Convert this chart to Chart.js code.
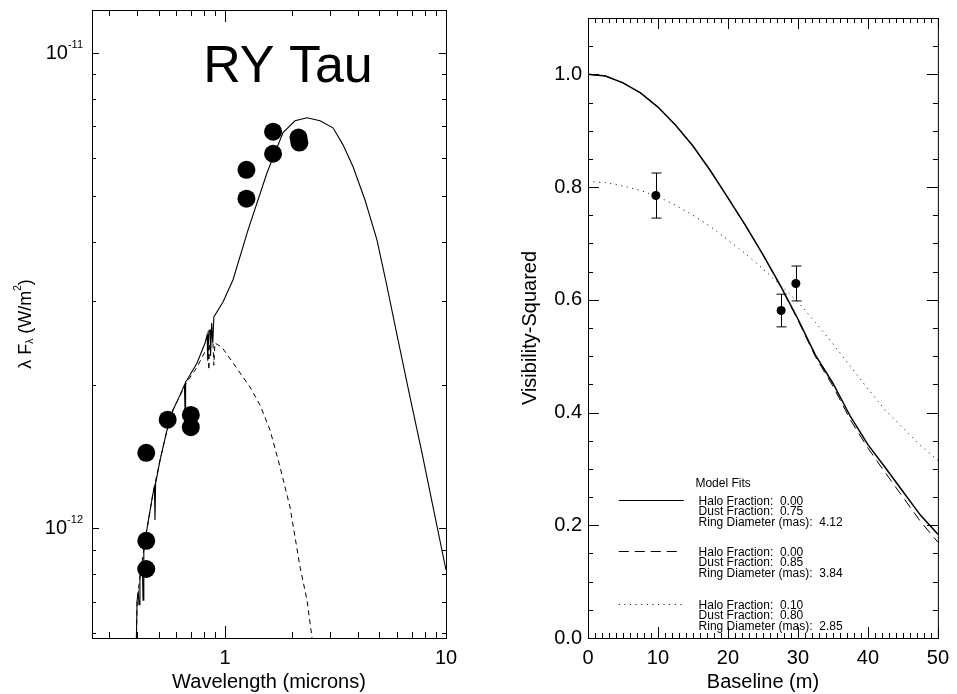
<!DOCTYPE html>
<html lang="en">
<head>
    <meta charset="UTF-8">
    <title>RY Tau: SED and Visibilities</title>
    <script src="https://cdn.jsdelivr.net/npm/chart.js"></script>
    <style>
        body { margin: 0; background: #fff; }
        #sed-wrap { position: absolute; left: 0; top: 0; }
        #vis-wrap { position: absolute; left: 478px; top: 0; }
    </style>
</head>
<body>
    <div id="sed-wrap"><canvas id="sedChart" width="478" height="694"></canvas></div>
    <div id="vis-wrap"><canvas id="visChart" width="479" height="694"></canvas></div>

    <script>
        const FONT = '"Liberation Sans", Arial, Helvetica, sans-serif';

        // ---- left panel: spectral energy distribution ----
        // photometry (microns, W/m^2)
        const photLambda = [0.44, 0.44, 0.44, 0.55, 0.70, 0.70, 1.25, 1.25, 1.65, 1.65, 2.15, 2.17];
        const photFlux = [1.44e-12, 9.4e-13, 8.2e-13, 1.69e-12, 1.73e-12, 1.63e-12,
                          5.67e-12, 4.93e-12, 6.82e-12, 6.13e-12, 6.63e-12, 6.47e-12];

        // total model (star + disk), solid
        const modelLambda = [0.396, 0.400, 0.405, 0.408, 0.412, 0.422, 0.4256, 0.429, 0.4346, 0.455,
                             0.4723, 0.479, 0.482, 0.485, 0.508, 0.5466, 0.5816, 0.626, 0.655, 0.659,
                             0.663, 0.673, 0.7468, 0.812, 0.83, 0.835, 0.845, 0.855, 0.86, 0.87,
                             0.88, 0.89, 0.979, 1.087, 1.271, 1.549, 1.83, 2.073, 2.35, 2.69,
                             3.08, 3.42, 3.80, 4.30, 4.87, 5.41, 6.00, 6.87, 7.79, 8.83, 10.0];
        const modelFlux = [5.5e-13, 7.05e-13, 7.3e-13, 6.9e-13, 7.88e-13, 8.5e-13, 7.05e-13, 8.9e-13, 9.43e-13, 1.07e-12,
                           1.185e-12, 1.22e-12, 1.04e-12, 1.24e-12, 1.39e-12, 1.608e-12, 1.772e-12, 1.906e-12, 2.0e-12, 1.77e-12,
                           2.03e-12, 2.049e-12, 2.225e-12, 2.45e-12, 2.55e-12, 2.25e-12, 2.6e-12, 2.61e-12, 2.3e-12, 2.7e-12,
                           2.45e-12, 2.78e-12, 2.99e-12, 3.33e-12, 4.24e-12, 5.59e-12, 6.79e-12, 7.19e-12, 7.30e-12, 7.19e-12,
                           6.95e-12, 6.40e-12, 5.75e-12, 4.90e-12, 4.04e-12, 3.22e-12, 2.55e-12, 1.887e-12, 1.438e-12, 1.081e-12, 8.16e-13];

        // stellar photosphere, dashed
        const starLambda = [0.396, 0.400, 0.412, 0.4346, 0.4723, 0.508, 0.5466, 0.5816, 0.626, 0.673,
                            0.7468, 0.812, 0.84, 0.845, 0.85, 0.882, 0.89, 0.90, 0.969, 1.087,
                            1.297, 1.44, 1.598, 1.774, 1.968, 2.185, 2.35, 2.476, 2.55];
        const starFlux = [5.5e-13, 7.05e-13, 7.88e-13, 9.43e-13, 1.185e-12, 1.39e-12, 1.608e-12, 1.772e-12, 1.90e-12, 2.03e-12,
                          2.18e-12, 2.35e-12, 2.40e-12, 2.15e-12, 2.42e-12, 2.45e-12, 2.2e-12, 2.45e-12, 2.40e-12, 2.225e-12,
                          1.98e-12, 1.815e-12, 1.608e-12, 1.344e-12, 1.107e-12, 8.28e-13, 7.05e-13, 5.87e-13, 5.0e-13];

        const sedXTicks = [1, 10];
        const sedXMinor = [0.3, 0.4, 0.5, 0.6, 0.7, 0.8, 0.9, 2, 3, 4, 5, 6, 7, 8, 9];
        const sedYTicks = [1e-12, 1e-11];
        const sedYMinor = [6e-13, 7e-13, 8e-13, 9e-13, 2e-12, 3e-12, 4e-12, 5e-12, 6e-12, 7e-12, 8e-12, 9e-12];

        // ---- right panel: squared visibilities ----
        const visBaseline = [9.7, 27.6, 29.7];
        const visV2 = [0.785, 0.581, 0.629];
        const visErr = [0.040, 0.029, 0.031];

        const fitBaseline = [0, 2.5, 5, 7.5, 10, 12.5, 15, 17.5, 20, 22.5, 25, 27.5, 30, 32.5, 35, 37.5, 40, 42.5, 45, 47.5, 50];
        const fitSolid = [1.000, 0.997, 0.985, 0.967, 0.942, 0.910, 0.873, 0.829, 0.781, 0.732, 0.680,
                          0.625, 0.566, 0.502, 0.452, 0.393, 0.343, 0.302, 0.260, 0.218, 0.184];
        const fitDashed = [1.000, 0.997, 0.985, 0.967, 0.942, 0.910, 0.873, 0.829, 0.781, 0.732, 0.680,
                           0.624, 0.564, 0.499, 0.447, 0.387, 0.337, 0.293, 0.250, 0.207, 0.170];
        const fitDotted = [0.810, 0.808, 0.802, 0.794, 0.783, 0.768, 0.750, 0.730, 0.706, 0.682, 0.655,
                           0.626, 0.596, 0.560, 0.522, 0.482, 0.442, 0.404, 0.373, 0.342, 0.315];

        const visXTicks = [0, 10, 20, 30, 40, 50];
        const visYTicks = [0.0, 0.2, 0.4, 0.6, 0.8, 1.0];

        const fitTitle = 'Model Fits';
        const fitLabels = [
            ['Halo Fraction:  0.00', 'Dust Fraction:  0.75', 'Ring Diameter (mas):  4.12'],
            ['Halo Fraction:  0.00', 'Dust Fraction:  0.85', 'Ring Diameter (mas):  3.84'],
            ['Halo Fraction:  0.10', 'Dust Fraction:  0.80', 'Ring Diameter (mas):  2.85'],
        ];

        function zip(xs, ys) {
            return xs.map((x, i) => ({ x: x, y: ys[i] }));
        }

        // IDL style box: frame plus inward ticks on all four sides
        function drawBox(chart, xMajor, xMinor, yMajor, yMinor, len) {
            const { ctx, chartArea: a, scales: { x, y } } = chart;
            ctx.save();
            ctx.strokeStyle = '#000';
            ctx.lineWidth = 1;
            ctx.beginPath();
            const xt = (vals, l) => vals.forEach(v => {
                const p = Math.round(x.getPixelForValue(v)) + 0.5;
                ctx.moveTo(p, a.bottom); ctx.lineTo(p, a.bottom - l);
                ctx.moveTo(p, a.top); ctx.lineTo(p, a.top + l);
            });
            const yt = (vals, l) => vals.forEach(v => {
                const p = Math.round(y.getPixelForValue(v)) + 0.5;
                ctx.moveTo(a.left, p); ctx.lineTo(a.left + l, p);
                ctx.moveTo(a.right, p); ctx.lineTo(a.right - l, p);
            });
            xt(xMajor, len.xMajor); xt(xMinor, len.xMinor);
            yt(yMajor, len.yMajor); yt(yMinor, len.yMinor);
            ctx.stroke();
            ctx.strokeRect(a.left + 0.5, a.top + 0.5, a.right - a.left, a.bottom - a.top);
            ctx.restore();
        }

        const axisTitle = (text) => ({ display: true, text: text, color: '#000', font: { family: FONT, size: 20 }, padding: 0 });
        const tickFont = { family: FONT, size: 20 };

        // ---------------- SED chart ----------------
        const sedBox = {
            id: 'sedBox',
            afterDraw(chart) {
                const { ctx, chartArea: a, scales: { y } } = chart;
                drawBox(chart, sedXTicks, sedXMinor, sedYTicks, sedYMinor,
                        { xMajor: 12, xMinor: 6, yMajor: 7, yMinor: 4 });

                ctx.save();
                ctx.fillStyle = '#000';
                ctx.textBaseline = 'alphabetic';
                ctx.textAlign = 'right';
                // 10^n labels
                sedYTicks.forEach(v => {
                    const p = y.getPixelForValue(v);
                    const sup = '-' + Math.abs(Math.round(Math.log10(v)));
                    ctx.font = '11px ' + FONT;
                    const w = ctx.measureText(sup).width;
                    ctx.fillText(sup, a.left - 9, p - 5);
                    ctx.font = '20px ' + FONT;
                    ctx.fillText('10', a.left - 9 - w, p + 6);
                });

                // object name
                ctx.textAlign = 'center';
                ctx.font = '52px ' + FONT;
                ctx.fillText('RY Tau', a.left + 196, a.top + 72);

                // y title: lambda F_lambda (W/m^2)
                const big = '18px ' + FONT, small = '10px ' + FONT;
                const parts = [['\u03bb F', big, 0], ['\u03bb', small, 2], [' (W/m', big, 0], ['2', small, -10], [')', big, 0]];
                ctx.translate(25, (a.top + a.bottom) / 2);
                ctx.rotate(-Math.PI / 2);
                ctx.textAlign = 'left';
                let total = 0;
                parts.forEach(p => { ctx.font = p[1]; total += ctx.measureText(p[0]).width; });
                let tx = -total / 2;
                parts.forEach(p => {
                    ctx.font = p[1];
                    ctx.fillText(p[0], tx, 6 + p[2]);
                    tx += ctx.measureText(p[0]).width;
                });
                ctx.restore();
            }
        };

        new Chart(document.getElementById('sedChart'), {
            type: 'scatter',
            data: {
                datasets: [
                    {
                        data: zip(photLambda, photFlux),
                        pointRadius: 9,
                        pointBackgroundColor: '#000',
                        pointBorderWidth: 0,
                    },
                    {
                        data: zip(modelLambda, modelFlux),
                        showLine: true,
                        pointRadius: 0,
                        borderColor: '#000',
                        borderWidth: 1.1,
                    },
                    {
                        data: zip(starLambda, starFlux),
                        showLine: true,
                        pointRadius: 0,
                        borderColor: '#000',
                        borderWidth: 1,
                        borderDash: [5, 4],
                    }
                ]
            },
            options: {
                responsive: false,
                animation: false,
                layout: { padding: { left: 0, right: 32, top: 10, bottom: 0 }, autoPadding: false },
                plugins: { legend: { display: false }, tooltip: { enabled: false } },
                scales: {
                    x: {
                        type: 'logarithmic',
                        min: 0.25,
                        max: 10,
                        grid: { display: false, drawTicks: false },
                        border: { display: false },
                        afterBuildTicks: s => { s.ticks = sedXTicks.map(v => ({ value: v })); },
                        afterFit: s => { s.height = 56; },
                        ticks: { autoSkip: false, maxRotation: 0, color: '#000', font: tickFont, padding: 8,
                                 callback: v => String(v) },
                        title: axisTitle('Wavelength (microns)'),
                    },
                    y: {
                        type: 'logarithmic',
                        min: 5.87e-13,
                        max: 1.23e-11,
                        grid: { display: false, drawTicks: false },
                        border: { display: false },
                        ticks: { display: false },
                        afterFit: s => { s.width = 92; },
                    }
                }
            },
            plugins: [sedBox]
        });

        // ---------------- visibility chart ----------------
        const visBox = {
            id: 'visBox',
            afterDatasetsDraw(chart) {
                const { ctx, scales: { x, y } } = chart;
                ctx.save();
                ctx.strokeStyle = '#000';
                ctx.lineWidth = 1;
                ctx.beginPath();
                visBaseline.forEach((b, i) => {
                    const px = Math.round(x.getPixelForValue(b)) + 0.5;
                    const top = y.getPixelForValue(visV2[i] + visErr[i]);
                    const bot = y.getPixelForValue(visV2[i] - visErr[i]);
                    ctx.moveTo(px, top); ctx.lineTo(px, bot);
                    ctx.moveTo(px - 5, top); ctx.lineTo(px + 5, top);
                    ctx.moveTo(px - 5, bot); ctx.lineTo(px + 5, bot);
                });
                ctx.stroke();
                ctx.restore();
            },
            afterDraw(chart) {
                const { ctx, scales: { x, y } } = chart;
                const minorX = [], minorY = [];
                for (let b = 1; b < 50; b++) if (b % 10) minorX.push(b);
                for (let v = 0.05; v < 1.1; v += 0.05) if (Math.abs(v * 5 - Math.round(v * 5)) > 0.01) minorY.push(v);
                drawBox(chart, visXTicks, minorX, visYTicks, minorY,
                        { xMajor: 11, xMinor: 5, yMajor: 11, yMinor: 5 });

                // model fit key
                ctx.save();
                ctx.fillStyle = '#000';
                ctx.strokeStyle = '#000';
                ctx.lineWidth = 1;
                ctx.textBaseline = 'alphabetic';
                ctx.font = '12px ' + FONT;
                const keyY = [0.245, 0.154, 0.061];
                const dashes = [[], [10, 6], [1, 4.6]];
                const ends = [13.7, 12.7, 13.7];
                const x0 = x.getPixelForValue(4.4);
                const tx = x.getPixelForValue(15.8);
                ctx.fillText(fitTitle, x.getPixelForValue(15.35), y.getPixelForValue(keyY[0]) - 13);
                keyY.forEach((v, i) => {
                    const py = Math.round(y.getPixelForValue(v)) + 0.5;
                    ctx.setLineDash(dashes[i]);
                    ctx.beginPath();
                    ctx.moveTo(x0, py);
                    ctx.lineTo(x.getPixelForValue(ends[i]), py);
                    ctx.stroke();
                    fitLabels[i].forEach((t, j) => ctx.fillText(t, tx, py + 4 + j * 10.5));
                });
                ctx.restore();
            }
        };

        new Chart(document.getElementById('visChart'), {
            type: 'scatter',
            data: {
                datasets: [
                    {
                        data: zip(visBaseline, visV2),
                        pointRadius: 4.5,
                        pointBackgroundColor: '#000',
                        pointBorderWidth: 0,
                    },
                    {
                        data: zip(fitBaseline, fitSolid),
                        showLine: true,
                        pointRadius: 0,
                        borderColor: '#000',
                        borderWidth: 1.5,
                    },
                    {
                        data: zip(fitBaseline, fitDashed),
                        showLine: true,
                        pointRadius: 0,
                        borderColor: '#000',
                        borderWidth: 1,
                        borderDash: [10, 6],
                    },
                    {
                        data: zip(fitBaseline, fitDotted),
                        showLine: true,
                        pointRadius: 0,
                        borderColor: '#000',
                        borderWidth: 1,
                        borderDash: [1, 4.6],
                    }
                ]
            },
            options: {
                responsive: false,
                animation: false,
                layout: { padding: { left: 0, right: 14, top: 10, bottom: 0 }, autoPadding: false },
                plugins: { legend: { display: false }, tooltip: { enabled: false } },
                scales: {
                    x: {
                        type: 'linear',
                        min: 0,
                        max: 50,
                        grid: { display: false, drawTicks: false },
                        border: { display: false },
                        afterBuildTicks: s => { s.ticks = visXTicks.map(v => ({ value: v })); },
                        afterFit: s => { s.height = 56; },
                        ticks: { autoSkip: false, maxRotation: 0, color: '#000', font: tickFont, padding: 8 },
                        title: axisTitle('Baseline (m)'),
                    },
                    y: {
                        type: 'linear',
                        min: 0,
                        max: 1.1,
                        grid: { display: false, drawTicks: false },
                        border: { display: false },
                        afterBuildTicks: s => { s.ticks = visYTicks.map(v => ({ value: v })); },
                        afterFit: s => { s.width = 110; },
                        ticks: { color: '#000', font: tickFont, padding: 6, callback: v => v.toFixed(1) },
                        title: { display: true, text: 'Visibility-Squared', color: '#000',
                                 font: { family: FONT, size: 20 }, padding: { top: 40, bottom: 0 } },
                    }
                }
            },
            plugins: [visBox]
        });
    </script>
</body>
</html>
